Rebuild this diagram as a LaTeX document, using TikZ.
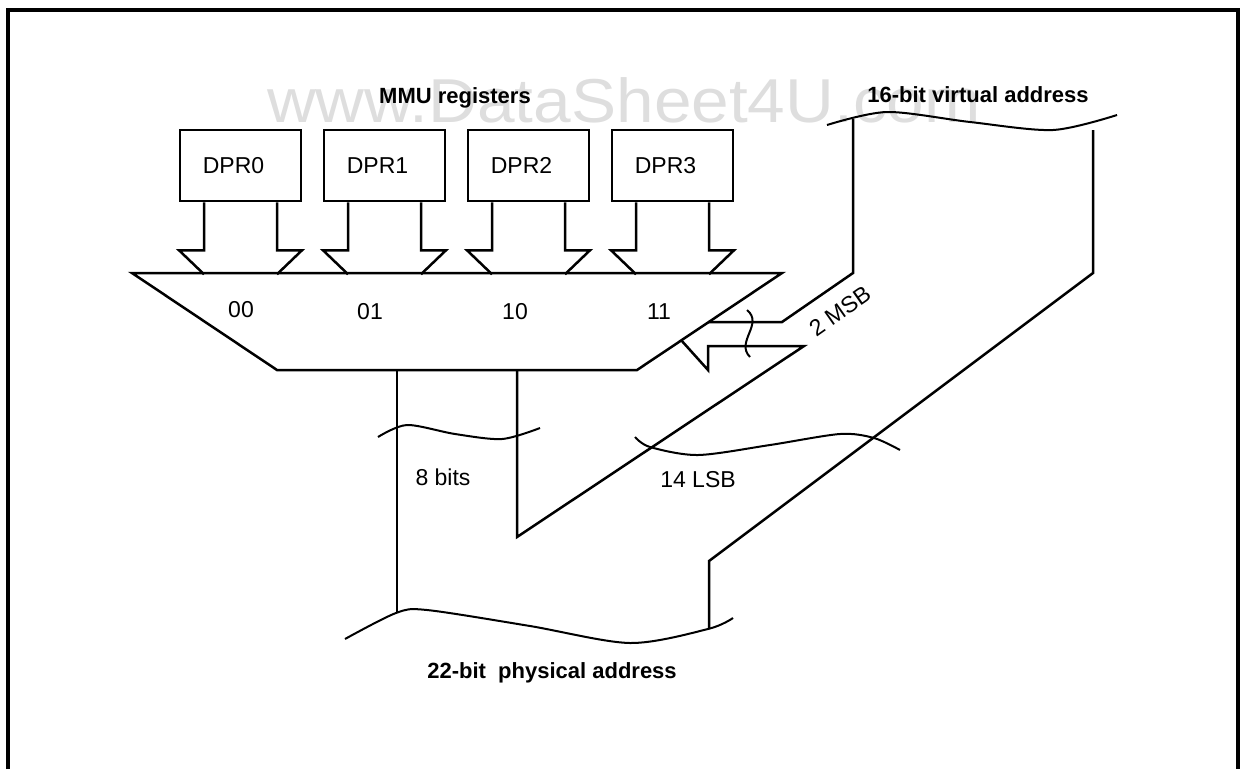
\documentclass[tikz,border=0pt]{standalone}
\usepackage{fontspec}
\setmainfont{Liberation Sans}
\usepackage{graphicx}

\begin{document}
\begin{tikzpicture}[x=1pt,y=-1pt,line width=2.5pt,
  reg/.style={draw,minimum width=121pt,minimum height=71pt,inner sep=0pt,font=\fontsize{23}{24}\selectfont},
  lbl/.style={font=\fontsize{23}{24}\selectfont},
  title/.style={anchor=base,font=\bfseries\fontsize{22}{24}\selectfont}]
  \useasboundingbox (0,0) rectangle (1241,769);
  \draw[line width=3.5pt] (8,769) -- (8,10) -- (1238,10) -- (1238,769);
  \node[anchor=base,text=black!13,font=\fontsize{62}{62}\selectfont] (wm) at (624,122) {\scalebox{1.09}[1]{www.DataSheet4U.com}};

  \node[title] (regs) at (455,103) {MMU registers};
  \node[title] (virt) at (978,102) {16-bit virtual address};
  \node[title] (phys) at (552,678) {22-bit~ physical address};

  \foreach \i in {0,...,3} {
    \node[reg] (dpr\i) at (240.5+144*\i,165.5) {DPR\i\hspace*{14pt}};
    \draw ([xshift=-36.5pt]dpr\i.south) -- ++(0,48) -- ++(-25,0) -- ++(25,24);
    \draw ([xshift=36.5pt]dpr\i.south) -- ++(0,48) -- ++(25,0) -- ++(-25,24);
  }

  \coordinate (mtl) at (132,273);
  \coordinate (mtr) at (782,273);
  \coordinate (mbr) at (637,370);
  \coordinate (mbl) at (277,370);
  \draw (mtl) -- (mtr) -- (mbr) -- (mbl) -- cycle;
  \node[lbl] (s0) at (241,310) {00};
  \node[lbl] (s1) at (370,312) {01};
  \node[lbl] (s2) at (515,312) {10};
  \node[lbl] (s3) at (659,312) {11};

  \coordinate (vl) at (853,119);
  \coordinate (vr) at (1093,130);
  \draw (vl) -- (853,273) -- (782,322) -- (708,322);
  \draw (681,340) -- (708,370) -- (708,346) -- (804,346) -- (517,537) -- (517,370);
  \draw (vr) -- (1093,273) -- (709,561) -- (709,629);
  \draw (397,370) -- (397,613);
  \draw[line width=2pt] (747,310) .. controls (764,324) and (735,342) .. (750,357);
  \node[lbl,rotate=35] (msb) at (840,311) {2 MSB};

  \draw[line width=2pt] plot[smooth] coordinates {(827,125) (887,112) (970,122) (1053,130) (1117,115)};
  \draw[line width=2pt] plot[smooth] coordinates {(378,437) (407,425) (455,434) (502,439) (540,428)};
  \draw[line width=2pt] plot[smooth] coordinates {(635,437) (650,447) (698,455) (770,445) (840,434) (874,438) (900,450)};
  \draw[line width=2pt] plot[smooth] coordinates {(345,639) (396,613) (427,610) (530,626) (630,643) (708,629) (733,618)};

  \node[lbl] (eight) at (443,477) {8 bits};
  \node[lbl] (lsb) at (698,480) {14 LSB};
\end{tikzpicture}
\end{document}
